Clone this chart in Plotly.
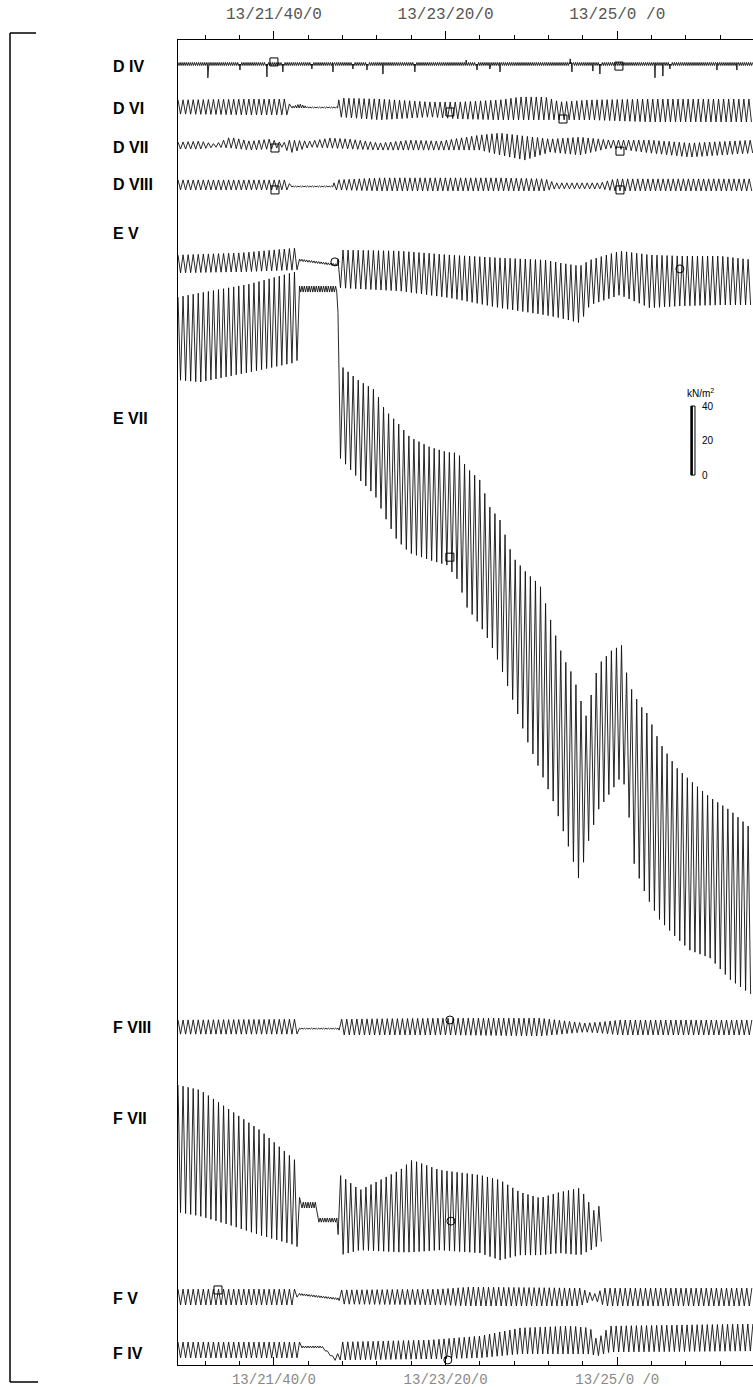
import numpy as np
import plotly.graph_objects as go

# ---------------- time base (seconds after 13:00:00) ----------------
T_START, T_END = 1244.1, 1579.1
WAVE_PERIOD = 2.95          # s, wave period read from the records
NOISE_PERIOD = 1.4          # s, jitter of the quiet (generator stopped) interval

MAJOR_TICKS = [1300, 1400, 1500]
MAJOR_TEXT = ["13/21/40/0", "13/23/20/0", "13/25/0 /0"]
MINOR_TICKS = [1260, 1280, 1320, 1340, 1360, 1380, 1420, 1440, 1460, 1480, 1520, 1540, 1560]

# ---------------- records: envelope readings in kN/m2 ----------------
D_IV_T = [1244.1, 1579.1]
D_IV_U = [0.9, 0.9]
D_IV_L = [-0.9, -0.9]
D_IV_SPIKE_T = [1261.5, 1280.2, 1295.9, 1305.2, 1322.1, 1334.4, 1346.0, 1354.2, 1363.5, 1382.1,
                1412.0, 1418.3, 1425.8, 1431.7, 1472.6, 1473.6, 1485.8, 1489.9, 1522.0, 1526.6,
                1530.7, 1558.1, 1569.7]
D_IV_SPIKE_D = [8.0, 3.5, 7.5, 4.6, 2.9, 4.6, 2.9, 3.5, 5.8, 4.6,
                -2.3, 3.5, 2.9, 4.6, -3.0, 4.6, 4.1, 5.8, 8.0, 7.0,
                2.9, 3.5, 3.5]

D_VI_T = [1244.1, 1286.0, 1308.2, 1309.5, 1315.0, 1320.0, 1337.3, 1337.9, 1361.8, 1390.9,
          1408.4, 1431.7, 1443.3, 1457.9, 1466.6, 1484.1, 1519.1, 1579.1]
D_VI_U = [4.1, 4.6, 4.6, 0.0, 1.7, 0.0, 0.0, 5.2, 4.6, 2.9, 2.9, 4.1, 5.8, 5.8, 2.9, 4.1, 4.6, 4.6]
D_VI_L = [-4.1, -4.6, -4.6, -0.6, -0.6, -0.6, -0.6, -5.8, -7.5, -5.8, -7.0, -7.5, -7.5, -7.5, -7.5, -7.5, -8.7, -8.7]
D_VI_QUIET = (1309.5, 1337.3)

D_VII_T = [1244.1, 1257.0, 1266.0, 1274.4, 1286.0, 1297.7, 1305.0, 1309.3, 1321.0, 1332.6, 1344.3,
           1361.8, 1379.2, 1396.7, 1420.0, 1431.7, 1446.2, 1460.8, 1478.3, 1495.7, 1519.1, 1542.4, 1579.1]
D_VII_U = [1.7, 2.3, 0.6, 4.6, 2.3, 3.5, 1.2, 2.9, 2.3, 4.1, 3.5,
           1.2, 2.9, 2.3, 5.8, 7.0, 5.2, 3.5, 4.6, 2.9, 2.9, 1.2, 2.9]
D_VII_L = [-2.3, -2.3, -1.2, -1.7, -2.9, -2.3, -1.2, -4.6, -1.2, -1.7, -2.3,
           -2.9, -2.9, -2.9, -2.9, -5.8, -8.7, -4.1, -5.8, -1.7, -4.6, -7.0, -4.6]

D_VIII_T = [1244.1, 1286.0, 1308.2, 1309.5, 1334.4, 1335.5, 1361.8, 1431.7, 1457.9, 1463.7, 1489.9, 1498.7, 1579.1]
D_VIII_U = [2.9, 2.9, 2.9, -0.6, -0.6, 2.9, 4.1, 4.1, 3.5, 1.2, 1.2, 3.5, 3.5]
D_VIII_L = [-2.9, -2.9, -2.9, -1.2, -1.2, -2.9, -3.5, -3.5, -3.5, -2.3, -2.3, -3.5, -3.5]
D_VIII_QUIET = (1309.5, 1334.4)

E_V_T = [1244.1, 1280.2, 1313.4, 1314.6, 1336.7, 1338.5, 1373.4, 1402.5, 1431.7, 1457.9, 1466.6,
         1478.3, 1484.1, 1501.6, 1519.1, 1536.5, 1559.8, 1579.1]
E_V_U = [5.2, 6.4, 9.3, 2.9, 0.0, 8.1, 7.5, 5.2, 3.5, 2.3, 0.6, -1.2, 2.3, 7.5, 5.2, 4.6, 4.6, 2.3]
E_V_L = [-5.2, -4.6, -3.5, 1.7, -1.2, -13.9, -15.7, -19.7, -25.5, -29.6, -31.3, -34.2, -23.8, -18.0, -25.5, -24.4, -23.8, -23.8]
E_V_QUIET = (1314.6, 1336.7)

E_VII_T = [1244.1, 1257.0, 1286.0, 1313.4, 1314.6, 1336.7, 1338.5, 1348.9, 1358.8, 1364.7, 1371.7,
           1379.2, 1390.9, 1400.8, 1407.2, 1412.4, 1420.0, 1425.8, 1431.7, 1439.2, 1447.4, 1455.0,
           1462.5, 1468.4, 1474.2, 1478.8, 1481.2, 1484.1, 1488.8, 1496.9, 1502.7, 1506.2, 1508.6,
           1513.2, 1517.3, 1524.9, 1534.8, 1542.4, 1554.0, 1565.7, 1579.1]
E_VII_U = [19.1, 21.5, 26.7, 34.0, 25.5, 25.5, -20.3, -29.0, -34.8, -46.4, -53.4,
           -62.1, -67.9, -70.8, -71.3, -80.0, -87.0, -102.7, -110.2, -131.7, -141.0, -147.9,
           -172.3, -189.7, -200.1, -214.6, -226.2, -214.6, -194.3, -185.6, -182.7, -203.0, -208.8,
           -217.5, -222.1, -239.5, -254.0, -261.0, -270.9, -278.4, -290.0]
E_VII_L = [-29.0, -30.2, -24.4, -18.6, 22.0, 22.0, -74.2, -85.8, -95.7, -108.5, -121.8,
           -129.3, -133.4, -136.3, -145.0, -160.7, -171.1, -181.0, -194.3, -214.6, -237.8, -255.2,
           -272.6, -290.0, -307.4, -321.9, -301.6, -294.1, -278.4, -266.8, -258.1, -272.6, -305.7,
           -319.0, -328.9, -342.2, -352.6, -359.6, -364.0, -376.5, -386.0]
E_VII_QUIET = (1314.6, 1336.7)

F_VIII_T = [1244.1, 1313.4, 1314.0, 1337.9, 1338.5, 1402.5, 1455.0, 1481.2, 1489.9, 1501.6, 1579.1]
F_VIII_U = [4.1, 4.6, -0.6, -0.6, 4.6, 5.2, 5.2, 2.3, 2.9, 4.1, 4.1]
F_VIII_L = [-4.1, -4.1, -1.2, -1.2, -4.6, -4.6, -5.2, -2.9, -3.5, -4.6, -4.6]
F_VIII_QUIET = (1314.0, 1337.9)

F_VII_T = [1244.1, 1257.0, 1274.4, 1291.8, 1312.2, 1313.4, 1315.1, 1325.0, 1325.6, 1336.7, 1338.5,
           1350.1, 1373.4, 1380.4, 1396.7, 1420.0, 1431.7, 1443.3, 1455.0, 1466.6, 1478.3, 1487.0, 1491.7]
F_VII_U = [37.7, 34.8, 23.2, 11.6, -5.8, -7.0, -30.2, -30.2, -39.4, -39.4, -14.5,
           -23.2, -11.6, -5.8, -11.6, -14.5, -17.4, -24.4, -27.8, -24.4, -22.0, -36.0, -29.0]
F_VII_L = [-36.0, -38.3, -43.5, -49.3, -55.1, -56.3, -33.6, -33.6, -41.8, -41.8, -60.9,
           -58.0, -59.2, -59.2, -58.0, -59.7, -63.8, -60.9, -60.9, -59.7, -60.9, -56.8, -52.2]
F_VII_QUIET = (1315.1, 1336.7)

F_V_T = [1244.1, 1312.8, 1313.6, 1337.9, 1338.5, 1396.7, 1414.2, 1478.3, 1486.4, 1492.8, 1579.1]
F_V_U = [4.6, 4.6, 2.3, -0.6, 4.1, 4.6, 5.8, 5.2, 1.7, 5.2, 5.2]
F_V_L = [-4.6, -4.6, 1.2, -1.7, -4.1, -4.6, -5.2, -5.2, -1.7, -5.2, -5.2]
F_V_QUIET = (1313.6, 1337.9)

F_IV_T = [1244.1, 1315.1, 1315.7, 1328.0, 1333.0, 1336.7, 1337.9, 1390.9, 1420.0, 1443.3,
          1472.4, 1484.1, 1488.2, 1495.7, 1579.1]
F_IV_U = [4.6, 4.6, 2.3, 2.3, -2.3, -5.8, 4.6, 5.8, 8.1, 12.8, 13.9, 12.8, 5.8, 13.9, 15.1]
F_IV_L = [-4.6, -4.6, 1.2, 1.2, -3.5, -7.0, -5.8, -5.2, -4.6, -2.3, -2.3, -2.3, -3.5, -1.2, -0.6]
F_IV_QUIET = (1315.7, 1328.0)

# time marks drawn on the records
MARK_CHANNEL = ["D IV", "D IV", "D VI", "D VI", "D VII", "D VII", "D VIII", "D VIII",
                "E V", "E V", "E VII", "F VIII", "F VII", "F V", "F IV"]
MARK_TIME = [1300.0, 1501.0, 1402.5, 1468.4, 1300.6, 1501.6, 1300.6, 1501.6,
             1335.5, 1536.5, 1402.5, 1402.5, 1403.1, 1267.4, 1401.3]
MARK_LEVEL = [1.2, -1.2, -2.9, -7.0, -1.7, -3.5, -2.9, -2.9,
              1.2, -2.9, -131.7, 4.1, -41.2, 4.1, -5.8]
MARK_SYMBOL = ["square-open"] * 8 + ["circle-open", "circle-open", "square-open",
                                     "circle-open", "circle-open", "square-open", "circle-open"]

SCALE_TICKS = [0, 20, 40]   # kN/m2 calibration bar

# ---------------- layout constants ----------------
W, H = 753, 1387
ML, MT, MB = 178, 40, 22
PX_PER_KN = 1.725
Y_TOP = (H - MT - MB) / PX_PER_KN
CHANNEL_ZERO = {"D IV": 754.2, "D VI": 729.3, "D VII": 707.2, "D VIII": 684.1, "E V": 638.3,
                "E VII": 600.0, "F VIII": 195.9, "F VII": 124.6, "F V": 39.4, "F IV": 8.7}
LABEL_PX = {"D IV": 67, "D VI": 108, "D VII": 147, "D VIII": 185, "E V": 233, "E VII": 418,
            "F VIII": 1027, "F VII": 1118, "F V": 1298, "F IV": 1353}
SCALE_POS_T, SCALE_ZERO = 1544.1, 515.9
LINE_COLOR = "#111"


def px_x(p):
    return (p - ML) / (W - ML)


def px_y(p):
    return (H - MB - p) / (H - MT - MB)


def build(T, U, L, period=WAVE_PERIOD, quiet=None):
    ts, t = [], T[0]
    while t <= T[-1] + 1e-9:
        ts.append(t)
        inq = quiet is not None and quiet[0] <= t < quiet[1]
        t += (NOISE_PERIOD if inq else period) / 2
    ts = np.array(ts)
    up, lo = np.interp(ts, T, U), np.interp(ts, T, L)
    return ts, np.where(np.arange(len(ts)) % 2 == 0, up, lo)


records = {
    "D VI": build(D_VI_T, D_VI_U, D_VI_L, quiet=D_VI_QUIET),
    "D VII": build(D_VII_T, D_VII_U, D_VII_L),
    "D VIII": build(D_VIII_T, D_VIII_U, D_VIII_L, quiet=D_VIII_QUIET),
    "E V": build(E_V_T, E_V_U, E_V_L, quiet=E_V_QUIET),
    "E VII": build(E_VII_T, E_VII_U, E_VII_L, quiet=E_VII_QUIET),
    "F VIII": build(F_VIII_T, F_VIII_U, F_VIII_L, quiet=F_VIII_QUIET),
    "F VII": build(F_VII_T, F_VII_U, F_VII_L, quiet=F_VII_QUIET),
    "F V": build(F_V_T, F_V_U, F_V_L, quiet=F_V_QUIET),
    "F IV": build(F_IV_T, F_IV_U, F_IV_L, quiet=F_IV_QUIET),
}
# D IV: noisy base line with pressure spikes
tb, yb = build(D_IV_T, D_IV_U, D_IV_L, period=1.2)
st = np.concatenate([[s - 0.25, s, s + 0.25] for s in D_IV_SPIKE_T])
sy = np.concatenate([[0.0, -d, 0.0] for d in D_IV_SPIKE_D])
keep = np.ones(len(tb), bool)
for s in D_IV_SPIKE_T:
    keep &= np.abs(tb - s) > 0.3
tt = np.concatenate([tb[keep], st])
yy = np.concatenate([yb[keep], sy])
o = np.argsort(tt)
records["D IV"] = (tt[o], yy[o])

fig = go.Figure()
for name, (tx, ty) in records.items():
    fig.add_trace(go.Scatter(x=tx, y=ty + CHANNEL_ZERO[name], mode="lines",
                             line=dict(color=LINE_COLOR, width=0.9), hoverinfo="skip",
                             showlegend=False))

fig.add_trace(go.Scatter(
    x=MARK_TIME, y=[CHANNEL_ZERO[c] + v for c, v in zip(MARK_CHANNEL, MARK_LEVEL)],
    mode="markers", marker=dict(symbol=MARK_SYMBOL, size=8, color="black", line=dict(width=1)),
    hoverinfo="skip", showlegend=False))

# calibration bar (kN/m2)
b0, b1 = SCALE_ZERO + min(SCALE_TICKS), SCALE_ZERO + max(SCALE_TICKS)
fig.add_trace(go.Scatter(x=[SCALE_POS_T - 1.2, SCALE_POS_T + 1.2, SCALE_POS_T + 1.2, SCALE_POS_T - 1.2, SCALE_POS_T - 1.2],
                         y=[b0, b0, b1, b1, b0], mode="lines", fill="toself", fillcolor="white",
                         line=dict(color="black", width=1), hoverinfo="skip", showlegend=False,
                         xaxis="x2"))
fig.add_trace(go.Scatter(x=[SCALE_POS_T - 0.6, SCALE_POS_T - 0.6], y=[b0, b1], mode="lines",
                         line=dict(color="black", width=2), hoverinfo="skip", showlegend=False,
                         xaxis="x2"))

ann = []
for v in SCALE_TICKS:
    ann.append(dict(x=SCALE_POS_T + 4.0, y=SCALE_ZERO + v, xref="x", yref="y", text=str(v),
                    showarrow=False, xanchor="left", yanchor="middle",
                    font=dict(family="Liberation Sans", size=10, color="black")))
ann.append(dict(x=SCALE_POS_T + 4.5, y=SCALE_ZERO + max(SCALE_TICKS) + 7.5, xref="x", yref="y",
                text="kN/m<sup>2</sup>", showarrow=False, xanchor="center", yanchor="middle",
                font=dict(family="Liberation Sans", size=10, color="black")))
for name, p in LABEL_PX.items():
    ann.append(dict(x=px_x(111), y=px_y(p), xref="paper", yref="paper", text="<b>%s</b>" % name,
                    showarrow=False, xanchor="left", yanchor="middle",
                    font=dict(family="Liberation Sans", size=16, color="black")))

shapes = [
    dict(type="line", xref="paper", yref="paper", x0=px_x(10), x1=px_x(10), y0=px_y(33), y1=px_y(1382),
         line=dict(color="black", width=1.5)),
    dict(type="line", xref="paper", yref="paper", x0=px_x(10), x1=px_x(36), y0=px_y(33), y1=px_y(33),
         line=dict(color="black", width=1.5)),
    dict(type="line", xref="paper", yref="paper", x0=px_x(10), x1=px_x(38), y0=px_y(1382), y1=px_y(1382),
         line=dict(color="black", width=1.5)),
]

axis_common = dict(range=[T_START, T_END], showgrid=False, zeroline=False, showline=True,
                   automargin=False, linecolor="black", linewidth=1, tickmode="array",
                   tickvals=MAJOR_TICKS, ticktext=MAJOR_TEXT, ticklen=8, tickwidth=1,
                   tickcolor="black",
                   minor=dict(tickmode="array", tickvals=MINOR_TICKS, ticklen=4, tickwidth=1,
                              tickcolor="black", showgrid=False))

fig.update_layout(
    width=W, height=H, margin=dict(l=ML, r=0, t=MT, b=MB, pad=0, autoexpand=False),
    paper_bgcolor="white", plot_bgcolor="white", hovermode=False, showlegend=False,
    xaxis=dict(side="top", ticks="outside", ticklabelstandoff=6,
               tickfont=dict(family="Liberation Mono", size=16, color="#555"),
               minor_ticks="outside", **axis_common),
    xaxis2=dict(side="bottom", overlaying="x", anchor="y", matches="x", ticks="inside",
                ticklabelstandoff=1,
                tickfont=dict(family="Liberation Mono", size=14, color="#888"),
                minor_ticks="inside", **axis_common),
    yaxis=dict(range=[0, Y_TOP], showgrid=False, zeroline=False, showline=True, automargin=False,
               linecolor="black", linewidth=1, showticklabels=False, ticks=""),
    annotations=ann, shapes=shapes,
)

fig.write_html("out.html", config={"displayModeBar": False, "staticPlot": True},
               post_script="document.body.style.margin='0px';document.body.style.overflow='hidden';")
